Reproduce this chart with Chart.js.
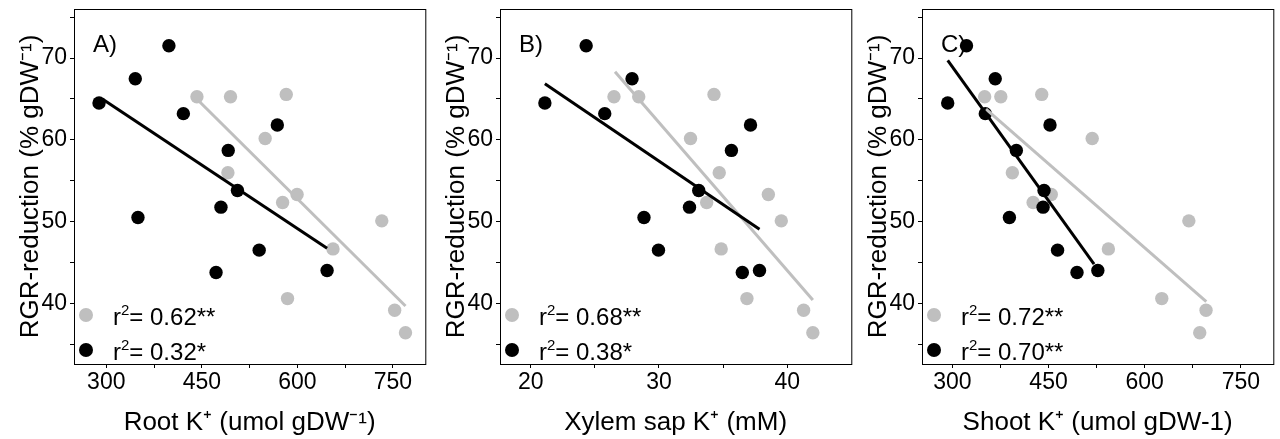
<!DOCTYPE html>
<html>
<head>
<meta charset="utf-8">
<script src="https://cdn.jsdelivr.net/npm/chart.js@4.4.1/dist/chart.umd.min.js"></script>
<style>
  html, body { margin: 0; padding: 0; background: #fff; }
  #wrap { position: relative; width: 1280px; height: 439px; overflow: hidden; }
  canvas { position: absolute; top: 0; }
</style>
</head>
<body>
<div id="wrap">
  <canvas id="chartA" width="432" height="439" style="left:0px"></canvas>
  <canvas id="chartB" width="432" height="439" style="left:426px"></canvas>
  <canvas id="chartC" width="432" height="439" style="left:848px"></canvas>
</div>
<script>
// RGR reduction, shared by the three panels (same plants)
var grayRGR  = [65.27, 65.27, 65.55, 60.16, 55.96, 52.33, 53.3, 46.65, 50.08, 40.57, 39.14, 36.4];
var blackRGR = [64.5, 71.5, 67.47, 63.2, 50.5, 61.8, 58.7, 53.8, 51.76, 46.5, 43.76, 44.0];

// K+ values per panel
var rootGray   = [442.3, 495, 582.5, 549.4, 490.9, 576.8, 599.5, 655.9, 732.5, 584.5, 752.7, 769.7];
var rootBlack  = [288.6, 398.3, 345.5, 421, 349.7, 568.5, 491.4, 505.9, 480, 540, 472.3, 646.6];
var xylemGray  = [26.49, 28.42, 34.29, 32.46, 34.7, 33.72, 38.53, 34.85, 39.54, 36.86, 41.28, 42.0];
var xylemBlack = [21.1, 24.32, 27.9, 25.77, 28.83, 37.14, 35.65, 33.1, 32.38, 29.96, 36.5, 37.84];
var shootGray  = [350.4, 375.6, 439.4, 518.1, 393.6, 426, 454.3, 543.3, 668.8, 626.6, 695.6, 685.8];
var shootBlack = [292.8, 322.1, 366.9, 351.4, 389, 452.3, 399.8, 443, 441.5, 464.1, 494.4, 526.9];

// fitted lines, end points [x1, x2] / [y1, y2]
var rootFitGrayX = [444.9, 769.7],  rootFitGrayY = [64.78, 39.67];
var rootFitBlackX = [293.8, 646.6], rootFitBlackY = [64.98, 46.73];
var xylemFitGrayX = [26.57, 42.0],  xylemFitGrayY = [68.33, 40.41];
var xylemFitBlackX = [21.1, 37.84], xylemFitBlackY = [66.86, 49.06];
var shootFitGrayX = [352.5, 696],   shootFitGrayY = [63.76, 40.2];
var shootFitBlackX = [292.8, 521],  shootFitBlackY = [69.7, 44.8];

var r2Root  = ['0.62**', '0.32*'];
var r2Xylem = ['0.68**', '0.38*'];
var r2Shoot = ['0.72**', '0.70**'];

var yTicks = [35, 40, 45, 50, 55, 60, 65, 70, 75];
var yLabels = [40, 50, 60, 70];
var kTicks = [300, 375, 450, 525, 600, 675, 750];
var kLabels = [300, 450, 600, 750];
var xylemTicks = [20, 25, 30, 35, 40];
var xylemLabels = [20, 30, 40];

var GRAY = '#bfbfbf';
var SANS = '"Liberation Sans", Arial, sans-serif';

function pts(xs, ys) {
  return xs.map(function (x, i) { return {x: x, y: ys[i]}; });
}

var panelDecor = {
  id: 'panelDecor',
  beforeDatasetsDraw: function (chart, args, opts) {
    var ctx = chart.ctx, a = chart.chartArea;
    ctx.save();
    ctx.fillStyle = '#000';
    ctx.font = '24px ' + SANS;
    ctx.textBaseline = 'alphabetic';
    ctx.fillText(opts.label, a.left + 19, a.top + 43);
    ctx.restore();
  },
  afterDatasetsDraw: function (chart, args, opts) {
    var ctx = chart.ctx, a = chart.chartArea;
    ctx.save();
    ctx.textBaseline = 'alphabetic';
    for (var i = 0; i < 2; i++) {
      var cy = a.top + 306 + i * 35;
      ctx.fillStyle = i == 0 ? GRAY : '#000';
      ctx.beginPath();
      ctx.arc(a.left + 12, cy, 7, 0, Math.PI * 2);
      ctx.fill();
      ctx.fillStyle = '#000';
      var x = a.left + 39, base = cy + 10;
      ctx.font = '24px ' + SANS;
      ctx.fillText('r', x, base);
      x += ctx.measureText('r').width;
      ctx.font = '15px ' + SANS;
      ctx.fillText('2', x, base - 10);
      x += ctx.measureText('2').width;
      ctx.font = '24px ' + SANS;
      ctx.fillText('= ' + opts.r2[i], x, base);
    }
    ctx.strokeStyle = '#000';
    ctx.lineWidth = 1;
    ctx.strokeRect(a.left + 0.5, a.top + 0.5, a.right - a.left, a.bottom - a.top);
    ctx.restore();
  }
};

function makePanel(id, label, xTitle, xMin, xMax, xTicks, xLabels, grayX, blackX, fitGX, fitGY, fitBX, fitBY, r2) {
  return new Chart(document.getElementById(id), {
    type: 'scatter',
    data: {
      datasets: [
        {data: pts(fitBX, fitBY), showLine: true, borderColor: '#000', borderWidth: 3, pointRadius: 0, order: 0},
        {data: pts(fitGX, fitGY), showLine: true, borderColor: GRAY, borderWidth: 3, pointRadius: 0, order: 1},
        {data: pts(blackX, blackRGR), backgroundColor: '#000', borderWidth: 0, pointRadius: 6.7, order: 2},
        {data: pts(grayX, grayRGR), backgroundColor: GRAY, borderWidth: 0, pointRadius: 6.7, order: 3}
      ]
    },
    options: {
      responsive: false,
      animation: false,
      layout: {padding: {left: 0, right: 3, top: 9, bottom: 0}},
      plugins: {
        legend: {display: false},
        tooltip: {enabled: false},
        panelDecor: {label: label, r2: r2}
      },
      scales: {
        x: {
          type: 'linear', min: xMin, max: xMax,
          afterBuildTicks: function (s) { s.ticks = xTicks.map(function (v) { return {value: v}; }); },
          afterFit: function (s) { s.height = 75; s.paddingLeft = 0; s.paddingRight = 0; },
          grid: {drawOnChartArea: false, drawTicks: true, tickLength: 4, color: '#000'},
          border: {display: false},
          ticks: {
            autoSkip: false, maxRotation: 0, padding: 1, color: '#000',
            font: {family: SANS, size: 23},
            callback: function (v) { return xLabels.indexOf(v) >= 0 ? String(v) : ''; }
          },
          title: {display: true, text: xTitle, color: '#000', font: {family: SANS, size: 26}, padding: {top: 0, bottom: 1}}
        },
        y: {
          type: 'linear', min: 32.57, max: 76.0,
          afterBuildTicks: function (s) { s.ticks = yTicks.map(function (v) { return {value: v}; }); },
          afterFit: function (s) { s.width = 74; s.paddingTop = 0; s.paddingBottom = 0; },
          grid: {drawOnChartArea: false, drawTicks: true, tickLength: 4, color: '#000'},
          border: {display: false},
          ticks: {
            autoSkip: false, padding: 3, color: '#000',
            font: {family: SANS, size: 23},
            callback: function (v) { return yLabels.indexOf(v) >= 0 ? String(v) : ''; }
          },
          title: {display: true, text: 'RGR-reduction (% gDW\u207B\u00B9)', color: '#000', font: {family: SANS, size: 26}, padding: {top: 15, bottom: 0}}
        }
      }
    },
    plugins: [panelDecor]
  });
}

makePanel('chartA', 'A)', 'Root K\u207A (umol gDW\u207B\u00B9)', 249.3, 800.8, kTicks, kLabels,
  rootGray, rootBlack, rootFitGrayX, rootFitGrayY, rootFitBlackX, rootFitBlackY, r2Root);
makePanel('chartB', 'B)', 'Xylem sap K\u207A (mM)', 17.6, 45.0, xylemTicks, xylemLabels,
  xylemGray, xylemBlack, xylemFitGrayX, xylemFitGrayY, xylemFitBlackX, xylemFitBlackY, r2Xylem);
makePanel('chartC', 'C)', 'Shoot K\u207A (umol gDW-1)', 252.7, 800.5, kTicks, kLabels,
  shootGray, shootBlack, shootFitGrayX, shootFitGrayY, shootFitBlackX, shootFitBlackY, r2Shoot);
</script>
</body>
</html>
